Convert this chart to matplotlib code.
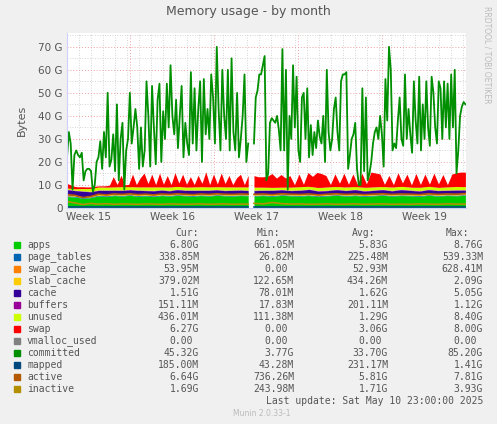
import numpy as np
import matplotlib
matplotlib.use("Agg")
import matplotlib.pyplot as plt
from matplotlib.ticker import MultipleLocator, FixedLocator, FuncFormatter

# committed (G), evenly sampled, two segments around the data gap
committed_a = [22, 33, 28, 8, 23, 25, 23, 22, 24, 12, 16, 17, 17, 16, 7, 10, 20, 22, 29, 17,
               33, 22, 50, 18, 21, 32, 16, 45, 12, 30, 37, 8, 25, 30, 50, 28, 35, 43, 35, 17,
               35, 18, 25, 55, 40, 18, 53, 35, 19, 47, 54, 20, 42, 30, 54, 35, 62, 40, 32, 47,
               26, 40, 53, 22, 37, 28, 23, 59, 28, 52, 25, 43, 55, 20, 56, 32, 43, 30, 58, 48,
               28, 70, 43, 25, 60, 40, 30, 60, 25, 65, 33, 25, 50, 22, 30, 40, 58, 20, 28]
committed_b = [28, 48, 51, 58, 58, 62, 66, 12, 15, 37, 39, 38, 37, 40, 34, 25, 69, 25, 60, 8,
               40, 30, 62, 35, 57, 25, 20, 48, 50, 30, 52, 22, 36, 23, 33, 26, 38, 31, 28, 40,
               20, 60, 33, 25, 30, 43, 48, 33, 25, 55, 58, 58, 59, 17, 23, 30, 32, 37, 17, 10,
               10, 52, 16, 48, 12, 15, 20, 28, 33, 35, 30, 40, 32, 18, 56, 38, 70, 60, 25, 28,
               26, 38, 48, 30, 27, 58, 30, 43, 32, 24, 55, 38, 28, 57, 25, 45, 30, 55, 35, 27,
               57, 50, 35, 28, 55, 52, 30, 55, 35, 54, 30, 58, 35, 60, 15, 25, 40, 44, 46, 45]

# stacked areas (G), coarse sampling, per segment
apps_a = [5.0, 4.8, 4.2, 4.5, 5.3, 5.0, 5.4, 5.2, 5.5, 5.1, 5.3, 5.0, 5.4, 5.2, 5.5, 5.3, 5.1, 5.4, 5.2, 5.5, 5.3, 5.2, 5.4, 5.3]
apps_b = [5.2, 5.4, 5.1, 5.5, 5.3, 5.2, 5.4, 5.0, 5.3, 5.5, 5.2, 5.4, 5.1, 5.3, 5.5, 5.2, 5.4, 5.3, 5.1, 5.5, 5.2, 5.4, 5.3, 5.5]
cache_a = [2.2, 2.0, 2.3, 1.8, 1.6, 1.9, 1.5, 1.7, 1.6, 1.8, 1.5, 1.7, 1.6, 1.5, 1.7, 1.6, 1.8, 1.5, 1.7, 1.6, 1.5, 1.7, 1.6, 1.5]
cache_b = [1.6, 1.5, 1.8, 1.6, 1.5, 1.7, 1.9, 1.6, 1.5, 1.7, 1.6, 1.8, 1.5, 1.6, 1.7, 1.5, 1.8, 1.6, 1.5, 1.7, 1.6, 1.5, 1.7, 1.5]
unused_a = [0.5, 0.6, 1.0, 1.2, 1.3, 1.2, 1.3, 1.4, 1.2, 1.3, 1.4, 1.5, 1.2, 1.4, 1.3, 1.2, 1.3, 1.4, 1.3, 1.2, 1.4, 1.3, 1.2, 1.4]
unused_b = [1.3, 1.2, 1.1, 1.0, 1.3, 1.4, 1.2, 1.3, 1.4, 1.2, 1.3, 1.2, 1.4, 1.3, 1.2, 1.4, 1.3, 1.2, 1.4, 1.3, 1.2, 1.3, 1.4, 1.3]
# swap (G), finer sampling for the spiky red band
swap_a = [2.0, 1.5, 1.0, 0.8, 0.8, 0.7, 0.7, 0.6, 0.5, 0.5, 0.6, 0.8, 4.5, 1.0, 5.0, 0.8, 1.0, 5.5, 1.0, 4.0,
          6.0, 1.5, 5.5, 1.0, 6.0, 1.2, 5.0, 1.0, 6.0, 1.5, 5.5, 1.2, 4.5, 1.0, 5.0, 1.5, 6.5, 1.0, 5.5, 1.2,
          6.0, 1.5, 5.0, 1.0, 4.0, 5.5, 1.0, 5.0]
swap_b = [5.0, 4.5, 4.5, 4.8, 6.0, 4.0, 5.5, 4.0, 5.0, 1.0, 5.5, 1.0, 6.0, 4.5, 6.5, 6.0, 5.0, 1.0, 5.5, 1.5,
          6.0, 1.2, 5.5, 1.0, 6.0, 1.5, 6.5, 6.0, 5.5, 1.0, 5.0, 1.0, 6.0, 1.5, 5.5, 1.0, 6.0, 1.2, 5.5, 1.0,
          6.0, 1.5, 5.5, 1.0, 5.5, 6.0, 6.3, 6.3]
page_tables = 0.3
swap_cache = 0.05
slab_cache = 0.4
buffers = 0.2
active_a = [5.8, 5.5, 4.5, 5.0, 6.0, 5.7, 6.1, 5.9, 6.2, 5.8, 6.0, 5.7, 6.1, 5.9, 6.2, 6.0, 5.8, 6.1, 5.9, 6.2, 6.0, 5.9, 6.1, 6.0]
active_b = [5.9, 6.1, 5.8, 6.2, 6.0, 5.9, 6.1, 5.7, 6.0, 6.2, 5.9, 6.1, 5.8, 6.0, 6.2, 5.9, 6.1, 6.0, 5.8, 6.2, 5.9, 6.1, 6.0, 6.3]
inactive_a = [2.8, 2.2, 1.5, 2.0, 1.7, 1.9, 1.6, 1.8, 1.7, 1.6, 1.8, 1.7, 1.6, 1.8, 1.7, 1.6, 1.7, 1.8, 1.6, 1.7, 1.8, 1.6, 1.7, 1.7]
inactive_b = [2.0, 1.8, 2.4, 1.9, 1.7, 1.8, 1.6, 1.7, 1.8, 1.6, 1.7, 1.8, 1.6, 1.7, 1.8, 1.6, 1.7, 1.6, 1.8, 1.7, 1.6, 1.8, 1.7, 1.7]
mapped = 0.23

seg_a = (0.0, 15.1)
seg_b = (15.58, 33.2)
week_labels = ["Week 15", "Week 16", "Week 17", "Week 18", "Week 19"]
week_pos = [1.83, 8.83, 15.83, 22.83, 29.83]
major_x = [5.25, 12.25, 19.25, 26.25]

legend_rows = [
    ("apps", "#00CC00", "6.80G", "661.05M", "5.83G", "8.76G"),
    ("page_tables", "#0066B3", "338.85M", "26.82M", "225.48M", "539.33M"),
    ("swap_cache", "#FF8000", "53.95M", "0.00", "52.93M", "628.41M"),
    ("slab_cache", "#FFCC00", "379.02M", "122.65M", "434.26M", "2.09G"),
    ("cache", "#330099", "1.51G", "78.01M", "1.62G", "5.05G"),
    ("buffers", "#990099", "151.11M", "17.83M", "201.11M", "1.12G"),
    ("unused", "#CCFF00", "436.01M", "111.38M", "1.29G", "8.40G"),
    ("swap", "#FF0000", "6.27G", "0.00", "3.06G", "8.00G"),
    ("vmalloc_used", "#808080", "0.00", "0.00", "0.00", "0.00"),
    ("committed", "#008F00", "45.32G", "3.77G", "33.70G", "85.20G"),
    ("mapped", "#00487D", "185.00M", "43.28M", "231.17M", "1.41G"),
    ("active", "#B35A00", "6.64G", "736.26M", "5.81G", "7.81G"),
    ("inactive", "#B38F00", "1.69G", "243.98M", "1.71G", "3.93G"),
]

BG = "#F0F0F0"
fig = plt.figure(figsize=(4.97, 4.24), dpi=100, facecolor=BG)
ax = fig.add_axes([67/497, 1-208/424, 399/497, 175/424])
ax.set_facecolor("white")

def draw_segment(seg, apps, cache, unused, swap, active, inactive, comm):
    n = len(apps)
    x = np.linspace(seg[0], seg[1], n)
    layers = [(np.array(apps), "#00CC00"),
              (np.full(n, page_tables), "#0066B3"),
              (np.full(n, swap_cache), "#FF8000"),
              (np.full(n, slab_cache), "#FFCC00"),
              (np.array(cache), "#330099"),
              (np.full(n, buffers), "#990099"),
              (np.array(unused), "#CCFF00")]
    base = np.zeros(n)
    for vals, c in layers:
        ax.fill_between(x, base, base + vals, color=c, lw=0)
        base = base + vals
    xs = np.linspace(seg[0], seg[1], len(swap))
    top = np.interp(xs, x, base)
    ax.fill_between(xs, top, top + np.array(swap), color="#FF0000", lw=0)
    ax.plot(x, active, color="#B35A00", lw=1.2)
    ax.plot(x, inactive, color="#B38F00", lw=1.2)
    ax.plot(x, np.full(n, mapped), color="#00487D", lw=1.2)
    xc = np.linspace(seg[0], seg[1], len(comm))
    ax.plot(xc, comm, color="#008F00", lw=1.3)

draw_segment(seg_a, apps_a, cache_a, unused_a, swap_a, active_a, inactive_a, committed_a)
draw_segment(seg_b, apps_b, cache_b, unused_b, swap_b, active_b, inactive_b, committed_b)

ax.set_xlim(0, 33.25)
ax.set_ylim(0, 76)
ax.yaxis.set_major_locator(MultipleLocator(10))
ax.yaxis.set_minor_locator(MultipleLocator(5))
ax.yaxis.set_major_formatter(FuncFormatter(lambda v, p: "0" if v == 0 else f"{int(v)} G"))
ax.xaxis.set_major_locator(FixedLocator(week_pos))
ax.set_xticklabels(week_labels)
ax.xaxis.set_minor_locator(MultipleLocator(1))
ax.grid(which="minor", color="#C8C8C8", ls=(0, (1, 2)), lw=0.6)
ax.grid(which="major", axis="y", color="#F0A0A0", ls=(0, (1, 2)), lw=0.7)
ax.xaxis.grid(False, which="major")
for xv in major_x:
    ax.axvline(xv, color="#F0A0A0", ls=(0, (1, 2)), lw=0.7, zorder=0.5)
ax.set_axisbelow(True)
for s in ["top", "right"]:
    ax.spines[s].set_visible(False)
ax.spines["left"].set_color("#D0D0FF")
ax.spines["bottom"].set_color("#D0D0FF")
ax.tick_params(which="both", length=0, labelsize=7.5, colors="#555555", pad=3)
ax.set_ylabel("Bytes", fontsize=8, color="#555555", labelpad=8)

fig.text(0.5, 1-11/424, "Memory usage - by month", ha="center", va="center", fontsize=9, color="#555555")
fig.text(487/497, 1-6/424, "RRDTOOL / TOBI OETIKER", rotation=270, ha="center", va="top", fontsize=5.5, color="#BBBBBB")

mono = "DejaVu Sans Mono"
tc = "#555555"
cols = [199, 294, 388, 483]
fig.text(199/497, 1-233/424, "Cur:", ha="right", va="center", family=mono, fontsize=7, color=tc)
fig.text(280/497, 1-233/424, "Min:", ha="right", va="center", family=mono, fontsize=7, color=tc)
fig.text(375/497, 1-233/424, "Avg:", ha="right", va="center", family=mono, fontsize=7, color=tc)
fig.text(469/497, 1-233/424, "Max:", ha="right", va="center", family=mono, fontsize=7, color=tc)
for i, (name, c, *vals) in enumerate(legend_rows):
    y = 1 - (245 + 12 * i) / 424
    fig.patches.append(plt.Rectangle((14/497, y - 3/424), 6/497, 6/424, transform=fig.transFigure, color=c))
    fig.text(27/497, y, name, va="center", family=mono, fontsize=7, color=tc)
    for xv, v in zip(cols, vals):
        if v == "0.00":
            xv -= 6
        fig.text(xv/497, y, v, ha="right", va="center", family=mono, fontsize=7, color=tc)
fig.text(483/497, 1-401/424, "Last update: Sat May 10 23:00:00 2025", ha="right", va="center", family=mono, fontsize=7, color=tc)
fig.text(262/497, 1-413/424, "Munin 2.0.33-1", ha="center", va="center", fontsize=5.5, color="#BBBBBB")

fig.savefig("out.png", dpi=100, facecolor=BG)
